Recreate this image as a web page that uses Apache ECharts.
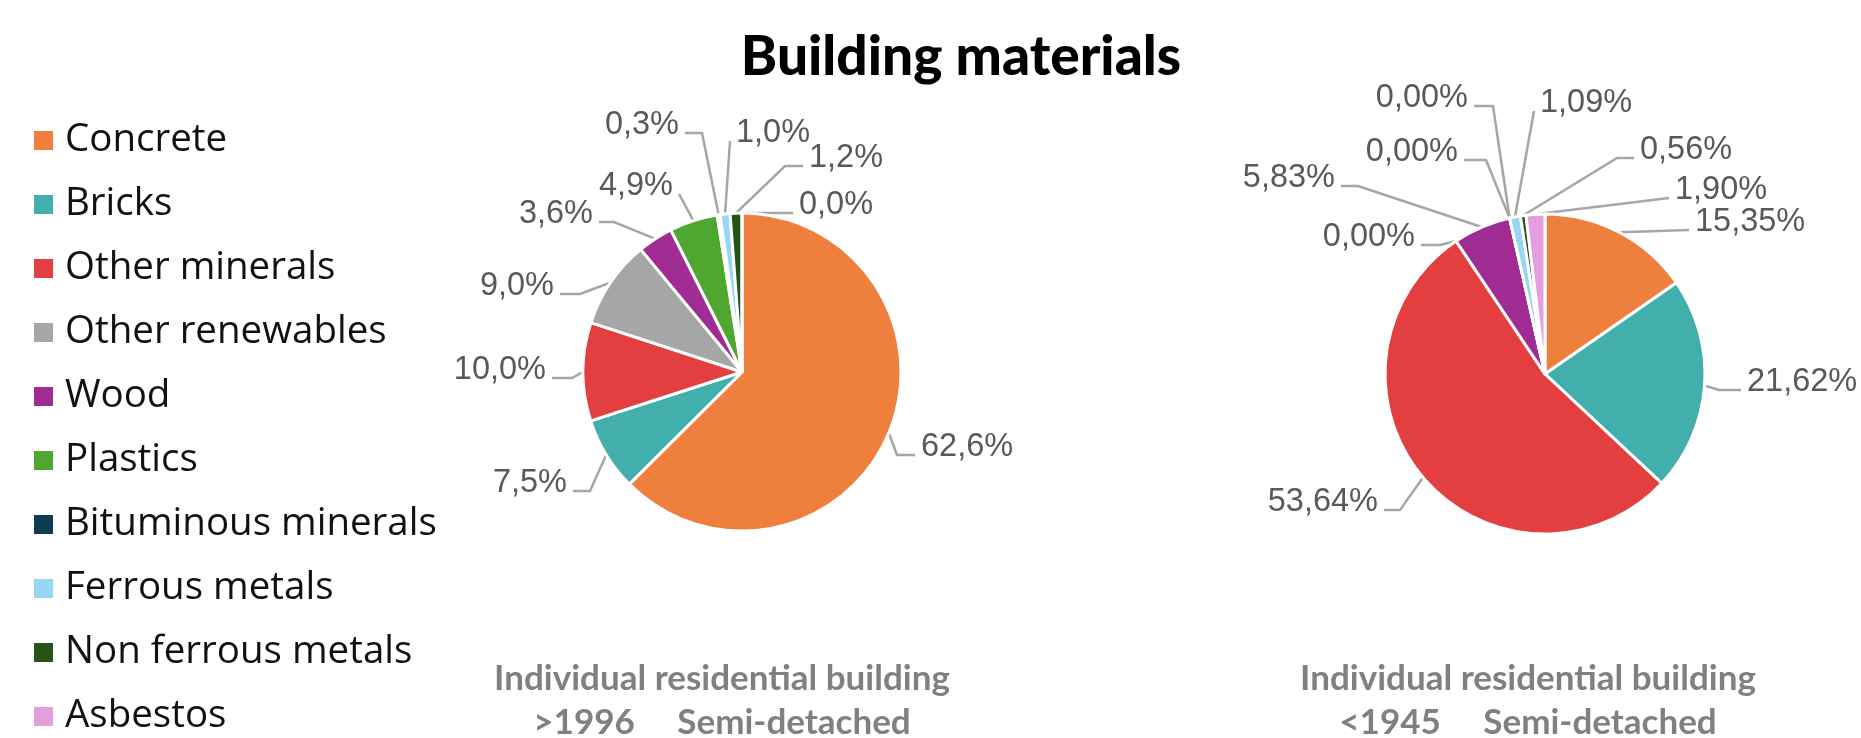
<!DOCTYPE html>
<html>
<head>
<meta charset="utf-8">
<script src="https://cdn.jsdelivr.net/npm/echarts@6/dist/echarts.min.js"></script>
<style>
html,body{margin:0;padding:0;background:#fff;}
#chart{width:1861px;height:738px;}
</style>
</head>
<body>
<div id="chart"></div>
<script>
// ---------- data ----------
const chartTitle = 'Building materials';
const categories = ['Concrete','Bricks','Other minerals','Other renewables','Wood','Plastics','Bituminous minerals','Ferrous metals','Non ferrous metals','Asbestos'];
const valuesAfter1996 = [62.6, 7.5, 10.0, 9.0, 3.6, 4.9, 0.3, 1.0, 1.2, 0.0];
const valuesBefore1945 = [15.35, 21.62, 53.64, 0.00, 5.83, 0.00, 0.00, 1.09, 0.56, 1.90];
const decimalsAfter1996 = 1;
const decimalsBefore1945 = 2;
const subtitleAfter1996 = ['Individual residential building', '>1996     Semi-detached'];
const subtitleBefore1945 = ['Individual residential building', '<1945     Semi-detached'];

// ---------- style / layout ----------
const palette = ['#EE7F3D','#43AFAC','#E33F40','#A6A6A6','#A02B93','#4EA72E','#0F3B53','#96D8F3','#275317','#E49EDC'];
const leftCenter = [742, 372];
const rightCenter = [1545, 374];
const leftRadius = 159;
const rightRadius = 160;
// label placement relative to pie centre: [dx, dy, side, elbow length]
const labelPlaceLeft = [
  [179, 75, 'L', 18],
  [-175, 111, 'R', 17],
  [-196, -2, 'R', 20],
  [-188, -86, 'R', 20],
  [-149, -158, 'R', 15],
  [-69, -186, 'R', 0],
  [-63, -247, 'R', 17],
  [-6, -239, 'L', 0],
  [67, -214, 'L', 18],
  [57, -167, 'L', 23]
];
const labelPlaceRight = [
  [150, -152, 'L', 0],
  [202, 8, 'L', 22],
  [-167, 128, 'R', 16],
  [-130, -137, 'R', 19],
  [-210, -196, 'R', 17],
  [-87, -222, 'R', 22],
  [-77, -276, 'R', 19],
  [-5, -271, 'L', 0],
  [95, -224, 'L', 17],
  [130, -184, 'L', 0]
];

function makeLabelLayout(place, center) {
  return function (p) {
    const pl = place[p.dataIndex];
    const x = center[0] + pl[0];
    const y = center[1] + pl[1];
    const isLeft = pl[2] === 'L';
    const p2 = [isLeft ? x - 6 : x + 6, y + 8];
    const p1 = [isLeft ? p2[0] - pl[3] : p2[0] + pl[3], p2[1]];
    const p0 = (p.labelLinePoints && p.labelLinePoints[0]) ? p.labelLinePoints[0] : p1;
    return {
      x: x, y: y,
      align: isLeft ? 'left' : 'right',
      verticalAlign: 'middle',
      labelLinePoints: [p0, p1, p2]
    };
  };
}

function buildData(values) {
  return categories.map(function (name, i) {
    return { name: name, value: values[i], itemStyle: { color: palette[i] } };
  });
}

function pieSeries(values, decimals, center, radius, place) {
  return {
    type: 'pie',
    center: center,
    radius: radius,
    startAngle: 90,
    clockwise: true,
    avoidLabelOverlap: false,
    animation: false,
    emphasis: { disabled: true },
    itemStyle: { borderColor: '#ffffff', borderWidth: 3 },
    label: {
      show: true,
      position: 'outside',
      fontFamily: 'Liberation Sans, Arial, sans-serif',
      fontSize: 32.5,
      color: '#595959',
      formatter: function (p) { return p.value.toFixed(decimals).replace('.', ',') + '%'; }
    },
    labelLine: { show: true, length: 10, length2: 10, lineStyle: { color: '#A6A6A6', width: 2.5 } },
    labelLayout: makeLabelLayout(place, center),
    data: buildData(values)
  };
}

const chart = echarts.init(document.getElementById('chart'), null, { renderer: 'canvas' });
chart.setOption({
  backgroundColor: '#ffffff',
  animation: false,
  title: [
    {
      text: chartTitle, left: 961, top: 26, textAlign: 'center', padding: 0,
      textStyle: { fontFamily: 'Lato', fontWeight: 900, fontSize: 55, color: '#000000', lineHeight: 62 }
    },
    {
      text: subtitleAfter1996.join('\n'), left: 722, top: 657, textAlign: 'center', padding: 0,
      textStyle: { fontFamily: 'Lato', fontWeight: 'bold', fontSize: 35, color: '#808080', lineHeight: 44 }
    },
    {
      text: subtitleBefore1945.join('\n'), left: 1528, top: 657, textAlign: 'center', padding: 0,
      textStyle: { fontFamily: 'Lato', fontWeight: 'bold', fontSize: 35, color: '#808080', lineHeight: 44 }
    }
  ],
  legend: {
    orient: 'vertical', left: 32, top: 120, padding: 0,
    itemWidth: 21, itemHeight: 21, itemGap: 23, icon: 'rect',
    selectedMode: false,
    textStyle: { fontFamily: 'Open Sans', fontSize: 38.5, color: '#111111', lineHeight: 41, padding: [0, 0, 0, 6] },
    data: categories
  },
  series: [
    pieSeries(valuesAfter1996, decimalsAfter1996, leftCenter, leftRadius, labelPlaceLeft),
    pieSeries(valuesBefore1945, decimalsBefore1945, rightCenter, rightRadius, labelPlaceRight)
  ]
});
</script>
</body>
</html>
